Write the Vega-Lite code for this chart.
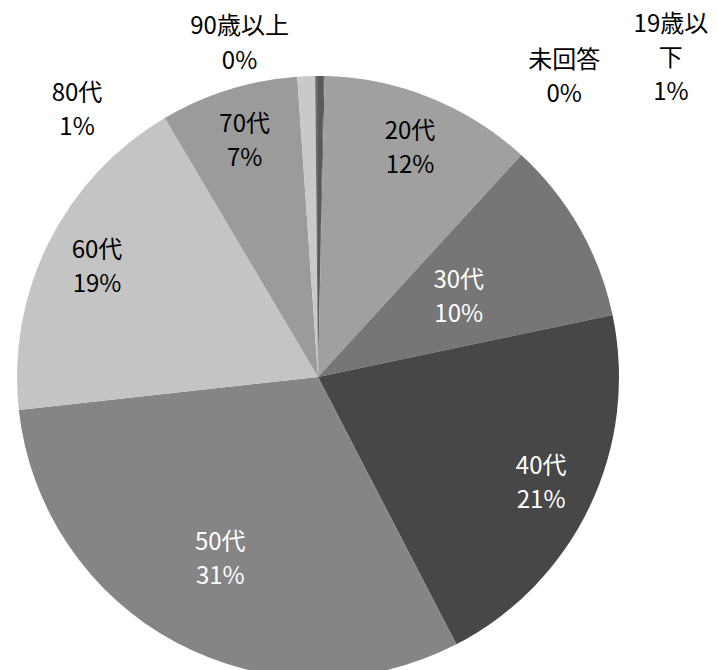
{
  "$schema": "https://vega.github.io/schema/vega-lite/v6.json",
  "width": 636,
  "height": 586,
  "autosize": "none",
  "padding": {"left": 0, "top": 84, "right": 81, "bottom": 0},
  "background": "white",
  "config": {"view": {"stroke": null}},
  "data": {
    "values": [
      {"o": 1, "cat": "19歳以下", "value": 0.3, "label": "19歳以\n下\n1%"},
      {"o": 2, "cat": "未回答", "value": 0.05, "label": "未回答\n0%"},
      {"o": 3, "cat": "20代", "value": 11.45, "label": "20代\n12%"},
      {"o": 4, "cat": "30代", "value": 9.9, "label": "30代\n10%"},
      {"o": 5, "cat": "40代", "value": 20.7, "label": "40代\n21%"},
      {"o": 6, "cat": "50代", "value": 30.85, "label": "50代\n31%"},
      {"o": 7, "cat": "60代", "value": 18.25, "label": "60代\n19%"},
      {"o": 8, "cat": "70代", "value": 7.4, "label": "70代\n7%"},
      {"o": 9, "cat": "80代", "value": 0.95, "label": "80代\n1%"},
      {"o": 10, "cat": "90歳以上", "value": 0.15, "label": "90歳以上\n0%"}
    ]
  },
  "encoding": {
    "theta": {"field": "value", "type": "quantitative", "stack": true},
    "order": {"field": "o", "type": "quantitative"}
  },
  "layer": [
    {
      "mark": {"type": "arc", "radius": 301, "strokeWidth": 0},
      "encoding": {
        "color": {
          "field": "cat",
          "type": "nominal",
          "scale": {
            "domain": ["19歳以下", "未回答", "20代", "30代", "40代", "50代", "60代", "70代", "80代", "90歳以上"],
            "range": ["#5a5a5a", "#3c3c3c", "#a0a0a0", "#767676", "#474747", "#858585", "#c4c4c4", "#9b9b9b", "#c9c9c9", "#6a6a6a"]
          },
          "legend": null
        }
      }
    },
    {
      "mark": {"type": "text", "radius": 247, "dy": -16, "font": "Noto Sans CJK JP", "fontSize": 24, "lineBreak": "\n", "lineHeight": 34, "align": "center", "baseline": "middle"},
      "encoding": {
        "text": {"condition": {"test": "indexof(['20代','40代','60代','70代'], datum.cat) >= 0", "field": "label"}, "value": ""},
        "fill": {"condition": {"test": "datum.cat === '40代'", "value": "white"}, "value": "black"}
      }
    },
    {
      "mark": {"type": "text", "radius": 162, "dy": -16, "font": "Noto Sans CJK JP", "fontSize": 24, "lineBreak": "\n", "lineHeight": 34, "align": "center", "baseline": "middle", "fill": "white"},
      "encoding": {
        "text": {"condition": {"test": "datum.cat === '30代'", "field": "label"}, "value": ""}
      }
    },
    {
      "mark": {"type": "text", "radius": 207, "dy": -16, "font": "Noto Sans CJK JP", "fontSize": 24, "lineBreak": "\n", "lineHeight": 34, "align": "center", "baseline": "middle", "fill": "white"},
      "encoding": {
        "text": {"condition": {"test": "datum.cat === '50代'", "field": "label"}, "value": ""}
      }
    },
    {
      "mark": {"type": "text", "radius": 305, "dx": -229, "dy": 22, "font": "Noto Sans CJK JP", "fontSize": 24, "lineBreak": "\n", "lineHeight": 34, "align": "center", "baseline": "middle", "fill": "black"},
      "encoding": {
        "text": {"condition": {"test": "datum.cat === '80代'", "field": "label"}, "value": ""}
      }
    },
    {
      "mark": {"type": "text", "radius": 305, "dx": -77, "dy": -45, "font": "Noto Sans CJK JP", "fontSize": 24, "lineBreak": "\n", "lineHeight": 35, "align": "center", "baseline": "middle", "fill": "black"},
      "encoding": {
        "text": {"condition": {"test": "datum.cat === '90歳以上'", "field": "label"}, "value": ""}
      }
    },
    {
      "mark": {"type": "text", "radius": 305, "dx": 350, "dy": -47, "font": "Noto Sans CJK JP", "fontSize": 24, "lineBreak": "\n", "lineHeight": 34, "align": "center", "baseline": "middle", "fill": "black"},
      "encoding": {
        "text": {"condition": {"test": "datum.cat === '19歳以下'", "field": "label"}, "value": ""}
      }
    },
    {
      "mark": {"type": "text", "radius": 305, "dx": 240, "dy": -11, "font": "Noto Sans CJK JP", "fontSize": 24, "lineBreak": "\n", "lineHeight": 34, "align": "center", "baseline": "middle", "fill": "black"},
      "encoding": {
        "text": {"condition": {"test": "datum.cat === '未回答'", "field": "label"}, "value": ""}
      }
    }
  ]
}
